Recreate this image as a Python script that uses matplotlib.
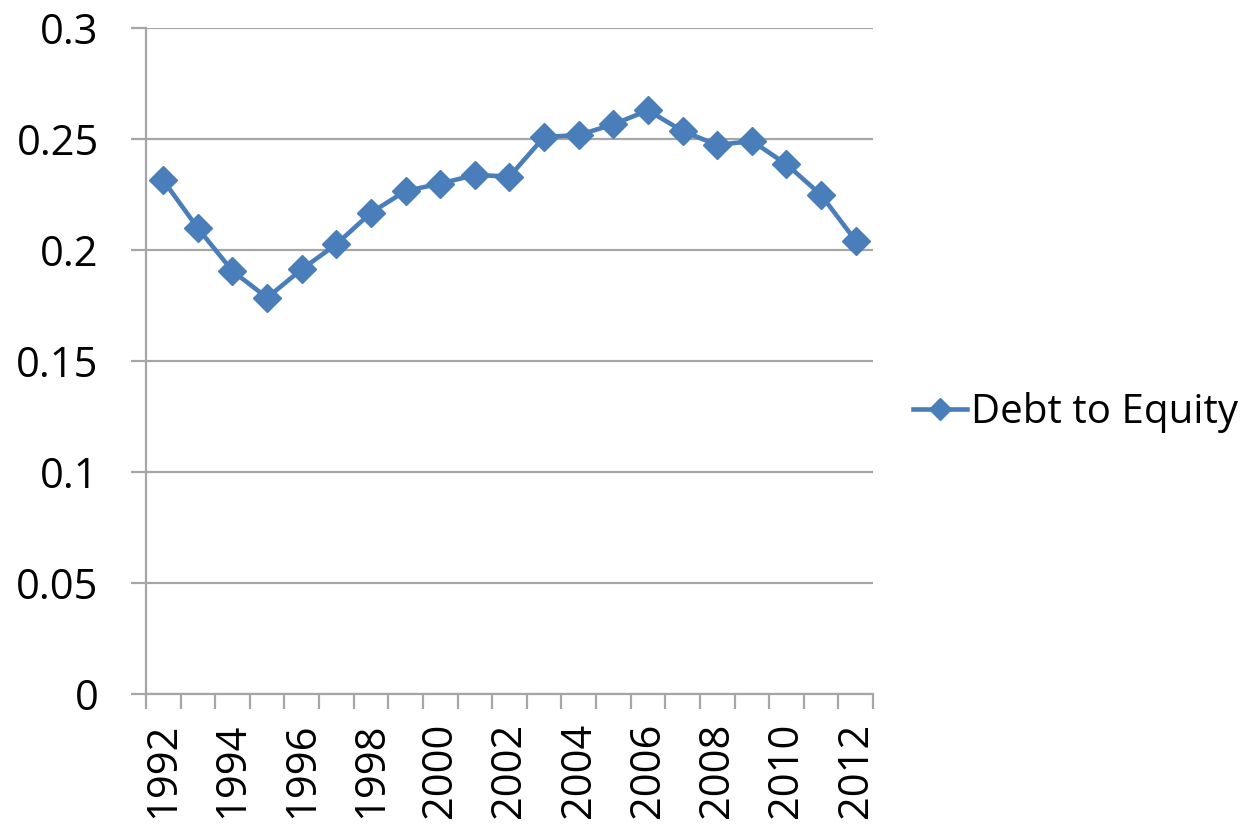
import matplotlib.pyplot as plt
import numpy as np

years = list(range(1992, 2013))
debt_to_equity = [0.2314, 0.2098, 0.1905, 0.1785, 0.1913, 0.2026, 0.2168,
                  0.2266, 0.2299, 0.2338, 0.2331, 0.2509, 0.2518, 0.2566,
                  0.2629, 0.2536, 0.2473, 0.2491, 0.2386, 0.2248, 0.2041]
y_ticks = [0, 0.05, 0.1, 0.15, 0.2, 0.25, 0.3]
y_labels = ['0', '0.05', '0.1', '0.15', '0.2', '0.25', '0.3']

plt.rcParams['font.family'] = ['Open Sans', 'DejaVu Sans']

line_color = '#4a7ebb'
grid_color = '#a6a6a6'

fig = plt.figure(figsize=(12.58, 8.25), dpi=100)
ax = fig.add_axes([0.116, 0.159, 0.578, 0.807])

x = np.arange(len(years))
ax.plot(x, debt_to_equity, color=line_color, lw=3.3, marker='D',
        markersize=14, label='Debt to Equity')

ax.set_xlim(-0.5, len(years) - 0.5)
ax.set_ylim(0, 0.3)
ax.set_yticks(y_ticks)
ax.set_yticklabels(y_labels, fontsize=30)
ax.yaxis.grid(True, color=grid_color, lw=1.6)
ax.set_axisbelow(True)

# category labels on every other year, tick marks on category boundaries
ax.set_xticks(x[::2])
ax.set_xticklabels([str(y) for y in years[::2]], rotation=90, fontsize=30)
ax.set_xticks(np.arange(-0.5, len(years)), minor=True)
ax.tick_params(axis='x', which='major', length=0, pad=21)
ax.tick_params(axis='x', which='minor', length=11, width=1.6, color=grid_color)
ax.tick_params(axis='y', length=11, width=1.6, color=grid_color, pad=23)

for side in ('top', 'right'):
    ax.spines[side].set_visible(False)
for side in ('left', 'bottom'):
    ax.spines[side].set_color(grid_color)
    ax.spines[side].set_linewidth(1.6)

fig.legend(loc='center left', bbox_to_anchor=(0.713, 0.5), frameon=False,
           fontsize=29, handlelength=1.35, handletextpad=0.1, borderaxespad=0,
           markerscale=0.8)

fig.savefig('out.png', dpi=100)
